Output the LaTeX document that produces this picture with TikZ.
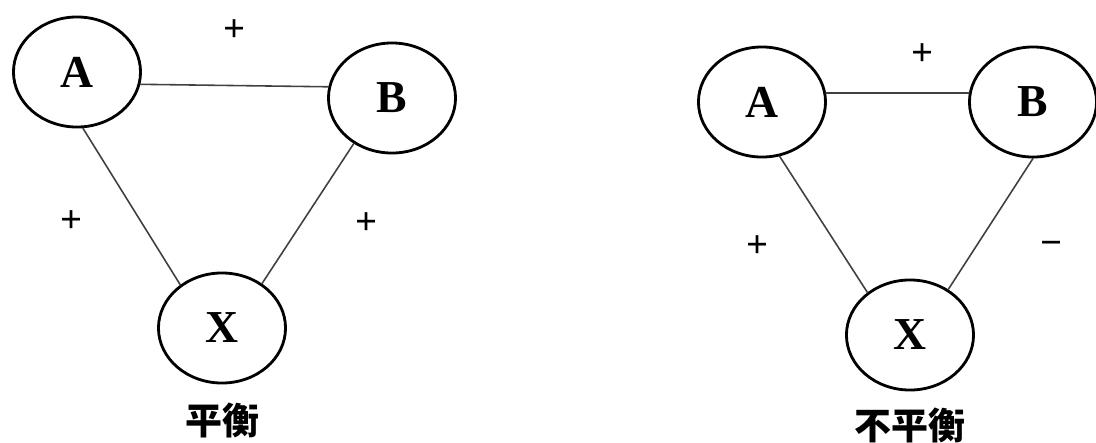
\documentclass[tikz,border=0pt]{standalone}
\usepackage{fontspec}
\setmainfont{Liberation Serif}
\newfontfamily\cjk{Noto Sans CJK SC}
\usetikzlibrary{shapes.geometric}

\begin{document}
\begin{tikzpicture}[
    x={(0.01cm,0cm)},
    y={(0cm,-0.01cm)},
    line join=round,
    line cap=round,
    ren/.style={ellipse, draw, line width=0.8pt, minimum width=1.27cm,
        minimum height=1.1cm, inner sep=0pt,
        font=\fontsize{13}{14}\selectfont\bfseries},
    guanxi/.style={draw=black!75, line width=0.45pt},
    fuhao/.style={font=\fontsize{11}{12}\selectfont\bfseries},
    biaoti/.style={font=\cjk\fontsize{10.5}{12}\selectfont\bfseries}
]
    \useasboundingbox (0,0) rectangle (1096,442);

    % 平衡
    \node[ren] (A1) at (77,72) {A};
    \node[ren] (B1) at (392,98) {B};
    \node[ren] (X1) at (222,328) {X};
    \draw[guanxi] (A1.-11) -- (B1.170);
    \draw[guanxi] (A1.-84) -- (X1.134);
    \draw[guanxi] (B1.-130) -- (X1.48);
    \node[fuhao] (s1) at (235,31) {+};
    \node[fuhao] (s2) at (72,222) {+};
    \node[fuhao] (s3) at (367,224) {+};
    \node[biaoti] (t1) at (222,420) {平衡};

    % 不平衡
    \node[ren] (A2) at (762,102) {A};
    \node[ren] (B2) at (1033,102) {B};
    \node[ren] (X2) at (910,335) {X};
    \draw[guanxi, line width=0.65pt] (A2.8) -- (B2.172);
    \draw[guanxi] (A2.-72) -- (X2.135);
    \draw[guanxi] (B2.-90) -- (X2.50);
    \node[fuhao] (s4) at (923,55) {+};
    \node[fuhao] (s5) at (758,247) {+};
    \node[fuhao] (s6) at (1052,248) {−};
    \node[biaoti] (t2) at (910,425) {不平衡};

\end{tikzpicture}
\end{document}
